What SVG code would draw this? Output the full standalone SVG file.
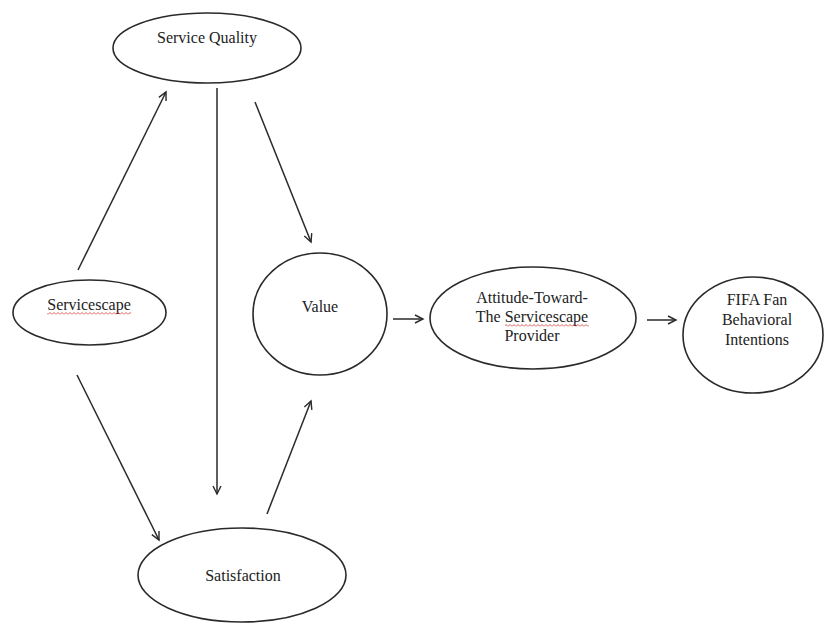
<svg xmlns="http://www.w3.org/2000/svg" width="826" height="623" viewBox="0 0 826 623">
<style>
  .node { fill: #ffffff; stroke: #2a2a2a; stroke-width: 1.6; }
  .lbl { font-family: "Liberation Serif", "Times New Roman", serif; font-size: 16px; fill: #222; text-anchor: middle; }
  .edge { stroke: #2a2a2a; stroke-width: 1.5; fill: none; marker-end: url(#arr); }
</style>
<defs>
  <marker id="arr" markerUnits="userSpaceOnUse" markerWidth="12" markerHeight="12" refX="9" refY="5" orient="auto">
    <path d="M1,1 L9,5 L1,9" fill="none" stroke="#2a2a2a" stroke-width="1.4"/>
  </marker>
  <pattern id="squig" patternUnits="userSpaceOnUse" width="4" height="3">
    <path d="M0,2.5 L2,0.5 L4,2.5" fill="none" stroke="#d23030" stroke-width="0.8"/>
  </pattern>
</defs>
<rect width="826" height="623" fill="#ffffff"/>
<g id="connectors">
  <line class="edge" x1="78" y1="270" x2="166" y2="92"/>
  <line class="edge" x1="217" y1="88" x2="217" y2="494"/>
  <line class="edge" x1="255" y1="102" x2="311" y2="242"/>
  <line class="edge" x1="77" y1="375" x2="159" y2="540"/>
  <line class="edge" x1="267" y1="514" x2="311" y2="401"/>
  <line class="edge" x1="393" y1="319" x2="423" y2="319"/>
  <line class="edge" x1="647" y1="320" x2="676" y2="320"/>
</g>
<g id="service-quality">
  <ellipse class="node" cx="207" cy="48" rx="94" ry="35"/>
  <text class="lbl" x="207" y="43">Service Quality</text>
</g>
<g id="servicescape">
  <ellipse class="node" cx="89.5" cy="312.5" rx="76.5" ry="32.5"/>
  <text class="lbl" x="89" y="310">Servicescape</text>
  <rect x="47" y="312" width="84" height="3" fill="url(#squig)"/>
</g>
<g id="value">
  <ellipse class="node" cx="320" cy="314" rx="67" ry="61"/>
  <text class="lbl" x="320" y="312">Value</text>
</g>
<g id="satisfaction">
  <ellipse class="node" cx="242" cy="575" rx="104" ry="47"/>
  <text class="lbl" x="243" y="581">Satisfaction</text>
</g>
<g id="attitude">
  <ellipse class="node" cx="533" cy="318" rx="103" ry="51"/>
  <text class="lbl" x="532" y="303">Attitude-Toward-</text>
  <text class="lbl" x="532" y="322">The Servicescape</text>
  <rect x="505" y="324" width="84" height="3" fill="url(#squig)"/>
  <text class="lbl" x="532" y="341">Provider</text>
</g>
<g id="fifa">
  <ellipse class="node" cx="753" cy="335" rx="70" ry="58"/>
  <text class="lbl" x="757" y="305">FIFA Fan</text>
  <text class="lbl" x="757" y="325">Behavioral</text>
  <text class="lbl" x="757" y="345">Intentions</text>
</g>
</svg>
